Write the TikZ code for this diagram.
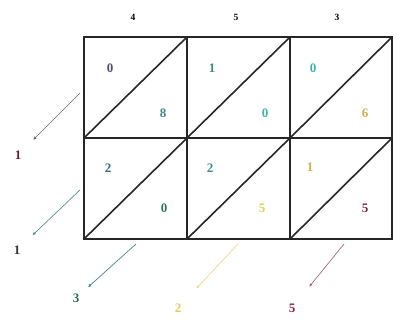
\documentclass[tikz,border=0pt]{standalone}
\usepackage{fontspec}
\setmainfont{Liberation Serif}
\usetikzlibrary{arrows.meta, positioning}

\definecolor{plum}{HTML}{5A4A6A}
\definecolor{tealD}{HTML}{2F6F78}
\definecolor{tealM}{HTML}{3A8A86}
\definecolor{tealL}{HTML}{40B0A4}
\definecolor{greenD}{HTML}{2A7050}
\definecolor{olive}{HTML}{C8B048}
\definecolor{sun}{HTML}{E6C85A}
\definecolor{wine}{HTML}{8A2444}

\begin{document}
\begin{tikzpicture}[x=1pt, y=-1pt,
  every node/.style={font=\bfseries\fontsize{13}{13}\selectfont, inner sep=1pt},
  head/.style={font=\bfseries\fontsize{9.5}{9.5}\selectfont},
  lattice/.style={draw=black!85, line width=1.6pt},
  carry/.style={-{Latex[length=3.5pt,width=3pt]}, line width=0.7pt}
]
\useasboundingbox (0,0) rectangle (406,320);

% Grid with diagonals
\draw[lattice] (84,37) rectangle (392,239);
\draw[lattice] (84,138) -- (392,138);
\foreach \x in {187,290} \draw[lattice] (\x,37) -- (\x,239);
\foreach \x/\xx in {84/187,187/290,290/392} {
  \draw[lattice] (\x,138) -- (\xx,37);
  \draw[lattice] (\x,239) -- (\xx,138);
}

% Factor on top
\node[head] (h1) at (133,17) {4};
\node[head] (h2) at (236,17) {5};
\node[head] (h3) at (337,17) {3};

% Partial products
\node[plum]  (c11u) at (110,68)  {0};
\node[tealM] (c11l) at (163,113) {8};
\node[tealM] (c12u) at (212,68)  {1};
\node[tealL] (c12l) at (265,113) {0};
\node[tealL] (c13u) at (313,68)  {0};
\node[olive] (c13l) at (365,113) {6};

\node[tealD] (c21u) at (108,168) {2};
\node[greenD!80!tealM] (c21l) at (164,208) {0};
\node[tealM] (c22u) at (210,168) {2};
\node[sun]   (c22l) at (262,208) {5};
\node[olive] (c23u) at (310,167) {1};
\node[wine]  (c23l) at (365,208) {5};

% Result digits
\node[wine!80!black] (r1) at (18,155)  {1};
\node[black!80]      (r2) at (17,250)  {1};
\node[greenD]        (r3) at (76,298)  {3};
\node[sun]           (r4) at (178,308) {2};
\node[wine]          (r5) at (292,308) {5};

% Sums along the diagonals
\coordinate (s1) at (80,93);
\coordinate (s2) at (80,190);
\coordinate (s3) at (136,244);
\coordinate (s4) at (238,244);
\coordinate (s5) at (344,244);

\draw[carry, black!60]  (s1) -- (r1) [shorten >=15pt];
\draw[carry, tealD!80]  (s2) -- (r2) [shorten >=15pt];
\draw[carry, tealM]     (s3) -- (r3) [shorten >=10pt];
\draw[carry, sun!70]    (s4) -- (r4) [shorten >=20pt];
\draw[carry, wine!70]   (s5) -- (r5) [shorten >=20pt];

\end{tikzpicture}
\end{document}
